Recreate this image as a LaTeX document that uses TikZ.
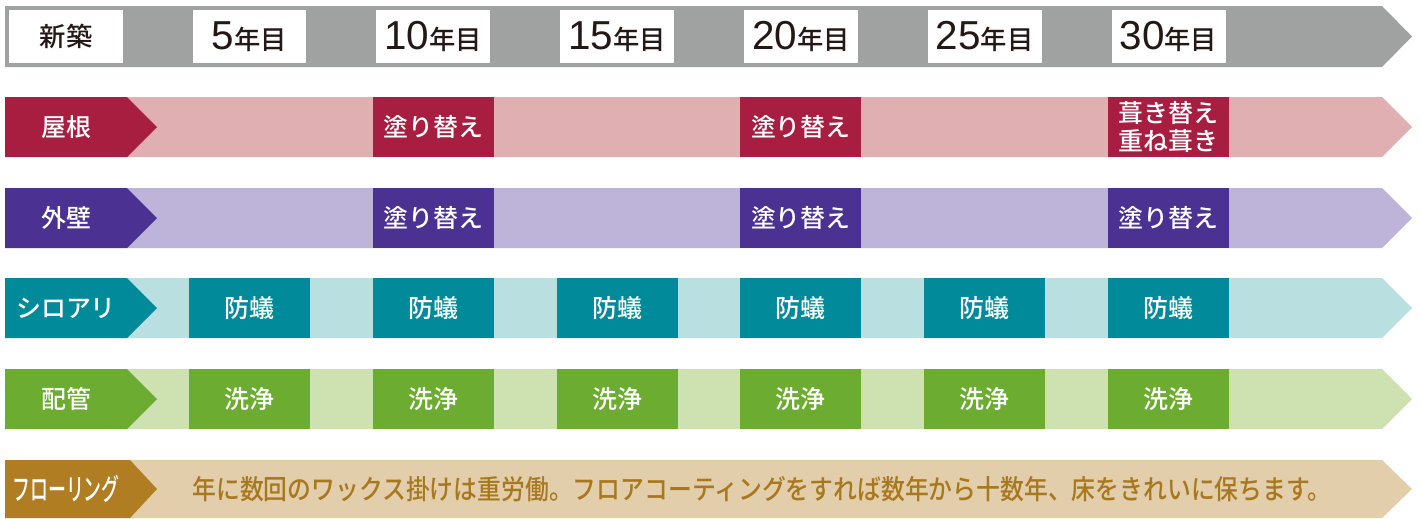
\documentclass[tikz,border=0pt]{standalone}
\usepackage{fontspec}
\setmainfont{Noto Sans CJK JP}[UprightFont=* Medium]
\newfontfamily\numfont{Liberation Sans}
\usetikzlibrary{positioning}

\definecolor{tgray}{HTML}{A0A2A1}
\definecolor{ink}{HTML}{231815}
\definecolor{roofD}{HTML}{A71E40}
\definecolor{roofL}{HTML}{DFAFB1}
\definecolor{wallD}{HTML}{4A3192}
\definecolor{wallL}{HTML}{BEB3D8}
\definecolor{antD}{HTML}{018A9A}
\definecolor{antL}{HTML}{B9DFE0}
\definecolor{pipeD}{HTML}{6BAC31}
\definecolor{pipeL}{HTML}{CEE1B0}
\definecolor{floorD}{HTML}{B07D22}
\definecolor{floorL}{HTML}{E2CEAA}
\definecolor{floorT}{HTML}{A8781E}

\begin{document}
\begin{tikzpicture}[x=0.02cm,y=-0.02cm,
  yearbox/.style={fill=white,minimum width=2.28cm,minimum height=1.06cm,inner sep=0pt,text=ink,font=\fontsize{15}{16}\selectfont},
  workbox/.style={minimum width=2.42cm,minimum height=1.2cm,inner sep=0pt,text=white,align=center,font=\fontsize{14.2}{16}\selectfont},
  rowname/.style={text=white,font=\fontsize{14.2}{16}\selectfont}]
  \useasboundingbox (0,0) rectangle (1422,518);
  % time line
  \fill[tgray] (5,6)--(1382,6)--(1412,36.5)--(1382,67)--(5,67)--cycle;
  \node[yearbox] (y0) at (66,36.5) {新築};
  \foreach \n [count=\k from 0] in {5,10,15,20,25,30}
    \node[yearbox] (y\n) at (249.5+183.8*\k,36.5) {{\numfont\fontsize{23}{24}\selectfont\n}年目};
  % rows
  \foreach \t/\dk/\lt/\name [count=\r] in {97/roofD/roofL/屋根,188/wallD/wallL/外壁,278/antD/antL/シロアリ,369/pipeD/pipeL/配管}{
    \fill[\lt] (127,\t)--(1382,\t)--(1412,\t+30)--(1382,\t+60)--(127,\t+60)--cycle;
    \fill[\dk] (5,\t)--(127,\t)--(157,\t+30)--(127,\t+60)--(5,\t+60)--cycle;
    \node[rowname] (row\r) at (66,\t+30) {\name};
  }
  \foreach \k in {1,3}
    \node[workbox,fill=roofD] (roof\k) at (249.5+183.8*\k,127) {塗り替え};
  \node[workbox,fill=roofD] (roof5) at (249.5+183.8*5,127) {葺き替え\\重ね葺き};
  \foreach \k in {1,3,5}
    \node[workbox,fill=wallD] (wall\k) at (249.5+183.8*\k,218) {塗り替え};
  \foreach \k in {0,...,5}{
    \node[workbox,fill=antD] (ant\k) at (249.5+183.8*\k,308) {防蟻};
    \node[workbox,fill=pipeD] (pipe\k) at (249.5+183.8*\k,399) {洗浄};
  }
  % flooring
  \fill[floorL] (127,460)--(1382,460)--(1412,489)--(1382,518)--(127,518)--cycle;
  \fill[floorD] (5,460)--(130,460)--(157,489)--(130,518)--(5,518)--cycle;
  \node[text=white,font=\fontsize{17}{18}\selectfont] (floor) at (66,489) {\scalebox{0.6}[1]{フローリング}};
  \node[text=floorT,font=\fontsize{15.5}{16}\selectfont] (floornote) at (762,489) {\scalebox{0.875}[1]{年に数回のワックス掛けは重労働。フロアコーティングをすれば数年から十数年、床をきれいに保ちます。}};
\end{tikzpicture}
\end{document}
